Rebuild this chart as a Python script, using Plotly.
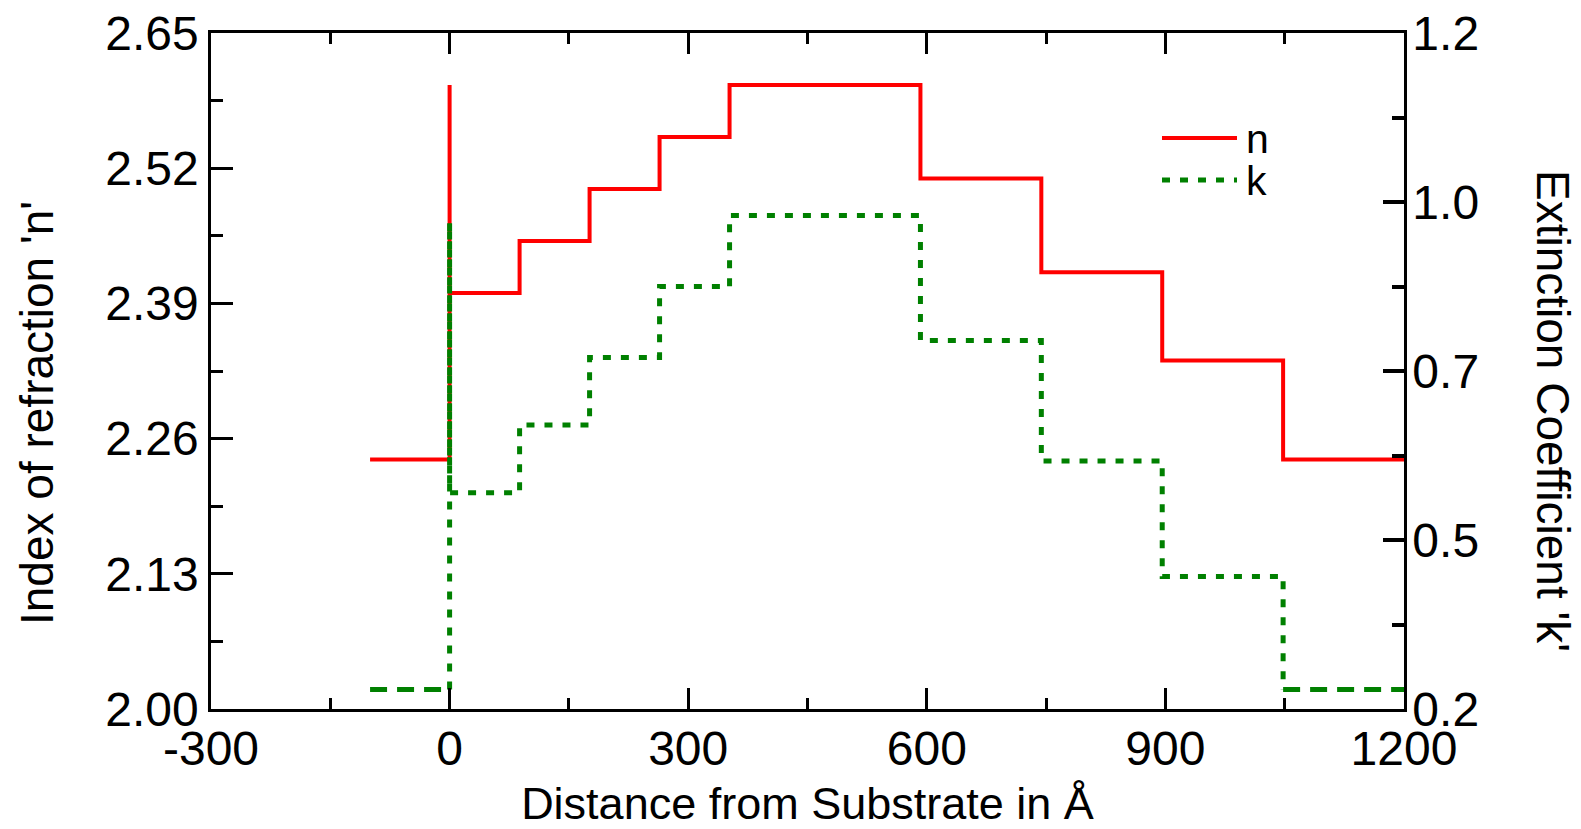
import plotly.graph_objects as go

# ---- data ----
n_x = [-100, 0, 0, 88, 176, 264, 352, 592, 744, 896, 1048, 1200]
n_y = [2.24, 2.60, 2.40, 2.45, 2.50, 2.55, 2.60, 2.51, 2.42, 2.335, 2.24, 2.24]

k_x = [-100, 0, 0, 88, 176, 264, 352, 592, 744, 896, 1048, 1200]
k_y = [0.229, 0.92, 0.52, 0.62, 0.72, 0.825, 0.93, 0.745, 0.567, 0.396, 0.229, 0.229]

x_ticks = [-300, 0, 300, 600, 900, 1200]
x_ticktext = ["-300", "0", "300", "600", "900", "1200"]
x_minor = [-150, 150, 450, 750, 1050]
n_ticks = [2.00, 2.13, 2.26, 2.39, 2.52, 2.65]
n_ticktext = ["2.00", "2.13", "2.26", "2.39", "2.52", "2.65"]
n_minor = [2.065, 2.195, 2.325, 2.455, 2.585]
k_ticks = [0.2, 0.45, 0.7, 0.95, 1.2]
k_ticktext = ["0.2", "0.5", "0.7", "1.0", "1.2"]
k_minor = [0.325, 0.575, 0.825, 1.075]

FONT = "Liberation Sans, Arial, sans-serif"
RED = "#ff0000"
GREEN = "#008000"
TICKFS = 48
TITLEFS = 45
K_DASH = "8px,10px"
K_BASE_DASH = "17px,10px"

fig = go.Figure()
fig.add_trace(go.Scatter(x=n_x, y=n_y, mode="lines", line_shape="hv", name="n",
                         line=dict(color=RED, width=4), showlegend=False))
# k: base segments (drawn with longer dashes) and the stepped profile
fig.add_trace(go.Scatter(x=k_x[:2], y=[k_y[0], k_y[0]], mode="lines", name="k", yaxis="y2",
                         legendgroup="k", showlegend=False,
                         line=dict(color=GREEN, width=5, dash=K_BASE_DASH)))
fig.add_trace(go.Scatter(x=[k_x[1]] + k_x[1:-1], y=[k_y[0]] + k_y[1:-1], mode="lines",
                         line_shape="hv", name="k", yaxis="y2", legendgroup="k", showlegend=False,
                         line=dict(color=GREEN, width=5, dash=K_DASH)))
fig.add_trace(go.Scatter(x=k_x[-2:], y=k_y[-2:], mode="lines", name="k", yaxis="y2",
                         legendgroup="k", showlegend=False,
                         line=dict(color=GREEN, width=5, dash=K_BASE_DASH)))

# page offset: the figure sits 8px inside the page (body margin)
OFF = 8
PAGE_W, PAGE_H = 1581, 829
W, H = PAGE_W - OFF, PAGE_H - OFF
# plot area in page pixels
PL, PR, PT, PB = 211, 1404, 33, 709
L, R, T, B = PL - OFF, PAGE_W - PR, PT - OFF, PAGE_H - PB
pw = PR - PL
ph = PB - PT

def px(xp):
    return (xp - PL) / pw

def py(yp):
    return (PB - yp) / ph

fig.update_layout(
    width=W, height=H,
    margin=dict(l=L, r=R, t=T, b=B, pad=0, autoexpand=False),
    paper_bgcolor="white", plot_bgcolor="white",
    font=dict(family=FONT, color="black", size=TICKFS),
    showlegend=False,
    xaxis=dict(
        range=[-300, 1200], tickmode="array", tickvals=x_ticks, ticktext=x_ticktext,
        ticks="inside", ticklen=21, tickwidth=2.5, tickcolor="black",
        showline=True, linecolor="black", linewidth=2.5, mirror="ticks",
        showgrid=False, zeroline=False, automargin=False, ticklabeloverflow="allow",
        tickfont=dict(size=TICKFS, family=FONT),
        ticklabelstandoff=-4,
        minor=dict(tickmode="array", tickvals=x_minor, ticks="inside", ticklen=11,
                   tickwidth=2.5, tickcolor="black", showgrid=False),
        title=dict(text="Distance from Substrate in Å", font=dict(size=TITLEFS, family=FONT), standoff=28),
    ),
    yaxis=dict(
        range=[2.00, 2.65], tickmode="array", tickvals=n_ticks, ticktext=n_ticktext,
        ticks="inside", ticklen=22, tickwidth=2.5, tickcolor="black",
        showline=True, linecolor="black", linewidth=2.5, mirror=False,
        showgrid=False, zeroline=False, automargin=False, ticklabeloverflow="allow",
        tickfont=dict(size=TICKFS, family=FONT),
        ticklabelstandoff=0,
        minor=dict(tickmode="array", tickvals=n_minor, ticks="inside", ticklen=12,
                   tickwidth=2.5, tickcolor="black", showgrid=False),
    ),
    yaxis2=dict(
        range=[0.2, 1.2], overlaying="y", side="right", anchor="x",
        tickmode="array", tickvals=k_ticks, ticktext=k_ticktext,
        ticks="inside", ticklen=21, tickwidth=4, tickcolor="black",
        showline=True, linecolor="black", linewidth=2.5,
        showgrid=False, zeroline=False, automargin=False, ticklabeloverflow="allow",
        tickfont=dict(size=TICKFS, family=FONT),
        ticklabelstandoff=-4,
        minor=dict(tickmode="array", tickvals=k_minor, ticks="inside", ticklen=12,
                   tickwidth=4, tickcolor="black", showgrid=False),
    ),
)

# axis titles for the two y axes
fig.add_annotation(text="Index of refraction 'n'", xref="paper", yref="paper",
                   x=px(37), y=py(413), textangle=-90, showarrow=False,
                   xanchor="center", yanchor="middle", font=dict(size=46, family=FONT))
fig.add_annotation(text="Extinction Coefficient 'k'", xref="paper", yref="paper",
                   x=px(1553), y=py(411), textangle=90, showarrow=False,
                   xanchor="center", yanchor="middle", font=dict(size=46, family=FONT))

# legend (drawn as line samples + labels)
fig.add_shape(type="line", xref="paper", yref="paper", x0=px(1162), x1=px(1237),
              y0=py(138), y1=py(138), line=dict(color=RED, width=4))
fig.add_shape(type="line", xref="paper", yref="paper", x0=px(1162), x1=px(1237),
              y0=py(180), y1=py(180), line=dict(color=GREEN, width=5, dash=K_DASH))
fig.add_annotation(text="n", xref="paper", yref="paper", x=px(1244), y=py(139),
                   showarrow=False, xanchor="left", yanchor="middle", font=dict(size=41, family=FONT))
fig.add_annotation(text="k", xref="paper", yref="paper", x=px(1244), y=py(181),
                   showarrow=False, xanchor="left", yanchor="middle", font=dict(size=41, family=FONT))

fig.write_html("out.html")
